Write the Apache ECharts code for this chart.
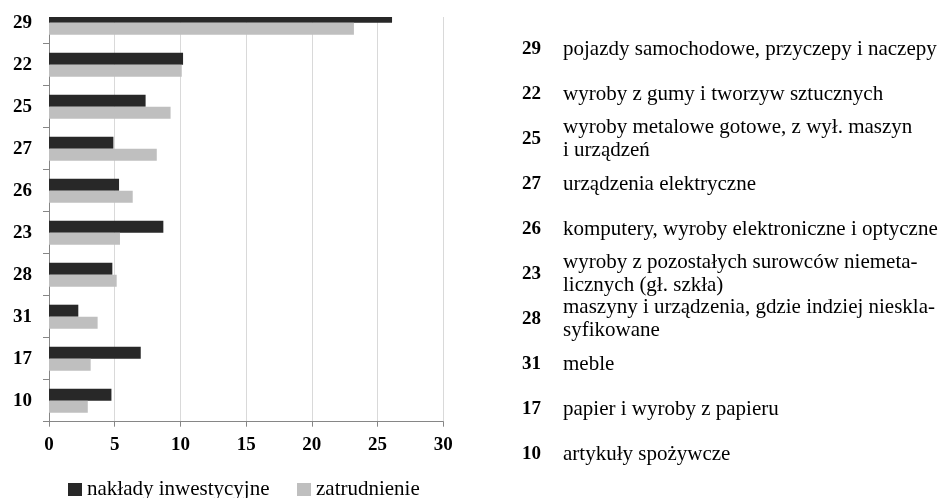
<!DOCTYPE html>
<html>
<head>
<meta charset="utf-8">
<script src="https://cdn.jsdelivr.net/npm/echarts@6/dist/echarts.min.js"></script>
<style>
  html, body { margin: 0; padding: 0; background: #fff; overflow: hidden; }
  /* wykres przesunięty w górę, górna część obszaru wykresu zasłonięta jak w oryginale */
  #chart { position: absolute; left: 0; top: -15px; width: 947px; height: 513px; }
</style>
</head>
<body>
<div id="chart"></div>
<script>
// kody działów (od góry)
const codes = ['29', '22', '25', '27', '26', '23', '28', '31', '17', '10']
// nakłady inwestycyjne
const naklady = [26.1, 10.2, 7.35, 4.9, 5.33, 8.7, 4.82, 2.23, 6.98, 4.75]
// zatrudnienie
const zatrudnienie = [23.2, 10.1, 9.25, 8.2, 6.37, 5.4, 5.15, 3.7, 3.17, 2.95]
const xTicks = [0, 5, 10, 15, 20, 25, 30]
const opisy = [
  'pojazdy samochodowe, przyczepy i naczepy',
  'wyroby z gumy i tworzyw sztucznych',
  'wyroby metalowe gotowe, z wył. maszyn\ni urządzeń',
  'urządzenia elektryczne',
  'komputery, wyroby elektroniczne i optyczne',
  'wyroby z pozostałych surowców niemeta-\nlicznych (gł. szkła)',
  'maszyny i urządzenia, gdzie indziej nieskla-\nsyfikowane',
  'meble',
  'papier i wyroby z papieru',
  'artykuły spożywcze'
]

const serif = '"Liberation Serif", "DejaVu Serif", serif'
const offsetY = 15 // przesunięcie diva wykresu

let graphic = [
  // zasłona górnej krawędzi obszaru wykresu (oryginał jest przycięty)
  {
    type: 'rect', z: 100,
    shape: { x: 40, y: 0, width: 430, height: 17 + offsetY },
    style: { fill: '#fff' }
  }
]
codes.forEach((c, i) => {
  let y = 49 + i * 45 + offsetY
  graphic.push({
    type: 'text', x: 522, y: y,
    style: { text: c, fill: '#000', fontSize: 19, fontWeight: 'bold', fontFamily: serif, verticalAlign: 'middle' }
  })
  graphic.push({
    type: 'text', x: 563, y: y,
    style: { text: opisy[i], fill: '#000', fontSize: 21, fontFamily: serif, verticalAlign: 'middle', lineHeight: 23 }
  })
})

const chart = echarts.init(document.getElementById('chart'))
chart.setOption({
  animation: false,
  legend: [
    {
      data: ['nakłady inwestycyjne'],
      left: 68, top: 494, padding: 0,
      icon: 'rect', itemWidth: 14, itemHeight: 13,
      textStyle: { fontFamily: serif, fontSize: 21, color: '#000' }
    },
    {
      data: ['zatrudnienie'],
      left: 297, top: 494, padding: 0,
      icon: 'rect', itemWidth: 14, itemHeight: 13,
      textStyle: { fontFamily: serif, fontSize: 21, color: '#000' }
    }
  ],
  grid: { left: 49, right: 503.7, top: 16.7, bottom: 76.3, containLabel: false },
  xAxis: {
    type: 'value', min: 0, max: 30, interval: 5,
    axisLine: { show: true, lineStyle: { color: '#868686' } },
    axisTick: { show: true, length: 5, lineStyle: { color: '#868686' } },
    splitLine: { show: true, lineStyle: { color: '#d9d9d9', width: 1 } },
    axisLabel: {
      margin: 14, color: '#000', fontSize: 19, fontWeight: 'bold', fontFamily: serif,
      formatter: v => xTicks.indexOf(v) >= 0 ? String(v) : ''
    }
  },
  yAxis: {
    type: 'category', inverse: true, data: codes,
    axisLine: { show: true, lineStyle: { color: '#868686' } },
    axisTick: { show: true, length: 6, lineStyle: { color: '#868686' } },
    axisLabel: { margin: 17, color: '#000', fontSize: 19, fontWeight: 'bold', fontFamily: serif }
  },
  series: [
    {
      name: 'nakłady inwestycyjne', type: 'bar', data: naklady,
      barWidth: 12, barGap: '0%',
      itemStyle: { color: '#282828' }
    },
    {
      name: 'zatrudnienie', type: 'bar', data: zatrudnienie,
      barWidth: 12, barGap: '0%',
      itemStyle: { color: '#bfbfbf' }
    }
  ],
  graphic: graphic
})
</script>
</body>
</html>
